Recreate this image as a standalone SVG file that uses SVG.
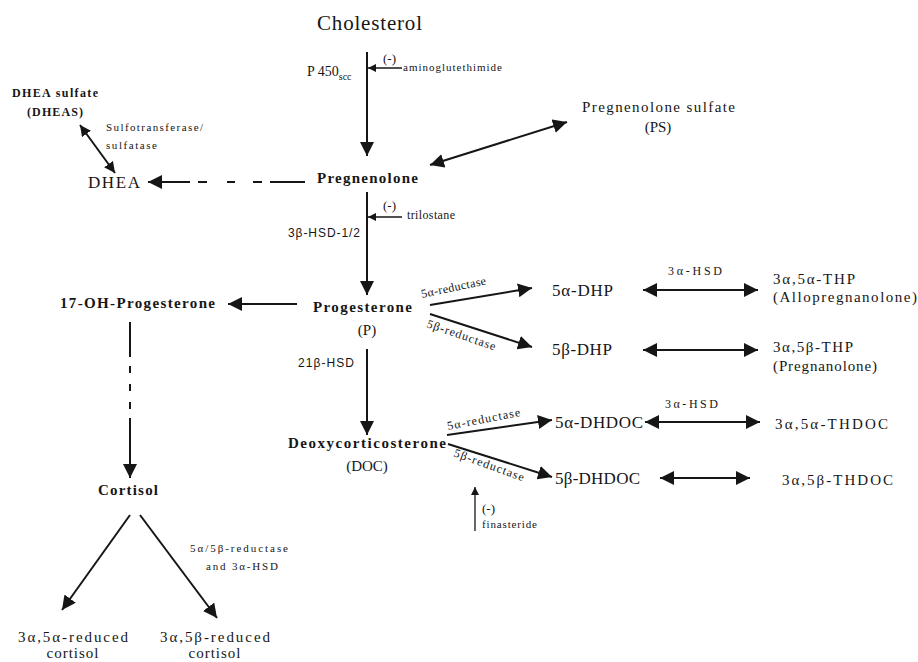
<svg xmlns="http://www.w3.org/2000/svg" width="918" height="662" viewBox="0 0 918 662" font-family="'Liberation Serif','DejaVu Serif','Times New Roman',serif">
<style>
text{font-family:'Liberation Serif','DejaVu Serif','Times New Roman',serif;fill:#161616}
.b{font-weight:bold;font-size:15px}
.n{font-size:15px}
.c{font-size:17px}
.s{font-size:11px}
.r{font-size:12px}
.m{font-size:13px}
.ss{font-family:'Liberation Sans',Arial,sans-serif;font-size:12px}
.ln{stroke:#161616;stroke-width:2;fill:none}
.thin{stroke:#161616;stroke-width:1.3;fill:none}
</style>
<defs>
<marker id="ah" markerUnits="userSpaceOnUse" markerWidth="15" markerHeight="14" refX="14" refY="7" orient="auto-start-reverse"><path d="M0,0 L14,7 L0,14 z" fill="#161616"/></marker>
<marker id="am" markerUnits="userSpaceOnUse" markerWidth="12" markerHeight="12" refX="11" refY="5.5" orient="auto-start-reverse"><path d="M0,0 L11,5.5 L0,11 z" fill="#161616"/></marker>
<marker id="as" markerUnits="userSpaceOnUse" markerWidth="9" markerHeight="8" refX="8" refY="4" orient="auto-start-reverse"><path d="M0,0 L8,4 L0,8 z" fill="#161616"/></marker>
</defs>
<rect width="918" height="662" fill="#fff"/>
<g id="connectors">
<line class="ln" x1="367" y1="52" x2="367" y2="156" marker-end="url(#ah)"/>
<line class="thin" x1="402" y1="68" x2="368" y2="68" marker-end="url(#as)"/>
<line class="ln" x1="367" y1="192" x2="367" y2="295" marker-end="url(#ah)"/>
<line class="thin" x1="402" y1="217" x2="368" y2="217" marker-end="url(#as)"/>
<line class="ln" x1="367" y1="349" x2="367" y2="435" marker-end="url(#ah)"/>
<line class="ln" x1="305" y1="182" x2="270" y2="182"/>
<line class="ln" x1="262" y1="182" x2="253" y2="182"/>
<line class="ln" x1="235" y1="182" x2="227" y2="182"/>
<line class="ln" x1="207" y1="182" x2="198" y2="182"/>
<line class="ln" x1="190" y1="182" x2="148" y2="182" marker-end="url(#ah)"/>
<line class="ln" x1="430" y1="165" x2="567" y2="122" marker-start="url(#ah)" marker-end="url(#ah)"/>
<line class="ln" x1="80" y1="125" x2="115" y2="173" marker-start="url(#am)" marker-end="url(#am)"/>
<line class="ln" x1="297" y1="304" x2="228" y2="304" marker-end="url(#ah)"/>
<line class="ln" x1="130" y1="322" x2="130" y2="357"/>
<line class="ln" x1="130" y1="366" x2="130" y2="373"/>
<line class="ln" x1="130" y1="384" x2="130" y2="391"/>
<line class="ln" x1="130" y1="402" x2="130" y2="409"/>
<line class="ln" x1="130" y1="418" x2="130" y2="478" marker-end="url(#ah)"/>
<line class="ln" x1="130" y1="515" x2="62" y2="610" marker-end="url(#ah)"/>
<line class="ln" x1="140" y1="515" x2="217" y2="618" marker-end="url(#ah)"/>
<line class="ln" x1="430" y1="305" x2="532" y2="288" marker-end="url(#ah)"/>
<line class="ln" x1="430" y1="314" x2="532" y2="347" marker-end="url(#ah)"/>
<line class="ln" x1="643" y1="290" x2="758" y2="290" marker-start="url(#ah)" marker-end="url(#ah)"/>
<line class="ln" x1="643" y1="350" x2="758" y2="350" marker-start="url(#ah)" marker-end="url(#ah)"/>
<line class="ln" x1="447" y1="435" x2="552" y2="420" marker-end="url(#ah)"/>
<line class="ln" x1="448" y1="444" x2="552" y2="477" marker-end="url(#ah)"/>
<line class="ln" x1="645" y1="422" x2="760" y2="422" marker-start="url(#ah)" marker-end="url(#ah)"/>
<line class="ln" x1="660" y1="478" x2="750" y2="478" marker-start="url(#ah)" marker-end="url(#ah)"/>
<line class="thin" x1="475" y1="531" x2="475" y2="487" marker-end="url(#as)"/>
</g>
<g id="labels">
<text x="307" y="76" fill="#161616" style="font-size:14px">P 450<tspan dy="4" style="font-size:10px">scc</tspan></text>
<text class="m" x="383" y="63">(-)</text>
<text class="s" x="403" y="71" textLength="99" lengthAdjust="spacing">aminoglutethimide</text>
<text class="s" x="106" y="131" textLength="97" lengthAdjust="spacing">Sulfotransferase/</text>
<text class="s" x="106" y="149" textLength="51" lengthAdjust="spacing">sulfatase</text>
<text class="m" x="383" y="210">(-)</text>
<text class="r" x="407" y="219" textLength="48" lengthAdjust="spacing">trilostane</text>
<text class="ss" x="288" y="237" textLength="72" lengthAdjust="spacing">3β-HSD-1/2</text>
<text class="ss" x="298" y="367" textLength="56" lengthAdjust="spacing">21β-HSD</text>
<text class="r" transform="translate(422,298) rotate(-12)" textLength="66" lengthAdjust="spacing">5α-reductase</text>
<text class="r" transform="translate(426,327) rotate(19)" textLength="72" lengthAdjust="spacing">5β-reductase</text>
<text class="r" x="668" y="275" textLength="54" lengthAdjust="spacing">3α-HSD</text>
<text class="r" transform="translate(448,430) rotate(-11)" textLength="74" lengthAdjust="spacing">5α-reductase</text>
<text class="r" transform="translate(453,456) rotate(20)" textLength="74" lengthAdjust="spacing">5β-reductase</text>
<text class="r" x="665" y="408" textLength="53" lengthAdjust="spacing">3α-HSD</text>
<text class="m" x="482" y="513">(-)</text>
<text class="s" x="482" y="528" textLength="55" lengthAdjust="spacing">finasteride</text>
<text class="s" x="190" y="552" textLength="98" lengthAdjust="spacing">5α/5β-reductase</text>
<text class="s" x="206" y="570" textLength="72" lengthAdjust="spacing">and 3α-HSD</text>
</g>
<g id="cholesterol"><text x="317" y="30" style="font-size:21px" textLength="105" lengthAdjust="spacing">Cholesterol</text></g>
<g id="dheas"><text x="12" y="97" style="font-weight:bold;font-size:12px" textLength="86" lengthAdjust="spacing">DHEA sulfate</text><text x="27" y="116" style="font-weight:bold;font-size:12px" textLength="56" lengthAdjust="spacing">(DHEAS)</text></g>
<g id="dhea"><text x="88" y="188" style="font-size:17px" textLength="52" lengthAdjust="spacing">DHEA</text></g>
<g id="pregnenolone"><text class="b" x="317" y="183" textLength="101" lengthAdjust="spacing">Pregnenolone</text></g>
<g id="ps"><text class="n" x="582" y="112" textLength="153" lengthAdjust="spacing">Pregnenolone sulfate</text><text class="n" x="658" y="132" text-anchor="middle">(PS)</text></g>
<g id="progesterone"><text class="b" x="313" y="312" textLength="99" lengthAdjust="spacing">Progesterone</text><text class="n" x="367" y="335" text-anchor="middle">(P)</text></g>
<g id="ohp"><text class="b" x="60" y="308" textLength="155" lengthAdjust="spacing">17-OH-Progesterone</text></g>
<g id="dhp5a"><text class="c" x="552" y="296" textLength="61" lengthAdjust="spacing">5α-DHP</text></g>
<g id="dhp5b"><text class="c" x="552" y="355" textLength="60" lengthAdjust="spacing">5β-DHP</text></g>
<g id="thp5a"><text class="n" x="773" y="284" textLength="82" lengthAdjust="spacing">3α,5α-THP</text><text class="n" x="773" y="302" textLength="144" lengthAdjust="spacing">(Allopregnanolone)</text></g>
<g id="thp5b"><text class="n" x="773" y="352" textLength="80" lengthAdjust="spacing">3α,5β-THP</text><text class="n" x="773" y="371" textLength="104" lengthAdjust="spacing">(Pregnanolone)</text></g>
<g id="doc"><text class="b" x="288" y="448" textLength="158" lengthAdjust="spacing">Deoxycorticosterone</text><text class="n" x="367" y="471" text-anchor="middle">(DOC)</text></g>
<g id="dhdoc5a"><text class="c" x="555" y="428" textLength="88" lengthAdjust="spacing">5α-DHDOC</text></g>
<g id="dhdoc5b"><text class="c" x="555" y="484" textLength="85" lengthAdjust="spacing">5β-DHDOC</text></g>
<g id="thdoc5a"><text class="n" x="775" y="429" textLength="113" lengthAdjust="spacing">3α,5α-THDOC</text></g>
<g id="thdoc5b"><text class="n" x="782" y="485" textLength="111" lengthAdjust="spacing">3α,5β-THDOC</text></g>
<g id="cortisol"><text class="b" x="98" y="495" textLength="60" lengthAdjust="spacing">Cortisol</text></g>
<g id="red5a"><text class="n" x="18" y="642" textLength="110" lengthAdjust="spacing">3α,5α-reduced</text><text class="n" x="73" y="658" text-anchor="middle" letter-spacing="1">cortisol</text></g>
<g id="red5b"><text class="n" x="160" y="642" textLength="110" lengthAdjust="spacing">3α,5β-reduced</text><text class="n" x="215" y="658" text-anchor="middle" letter-spacing="1">cortisol</text></g>
</svg>
